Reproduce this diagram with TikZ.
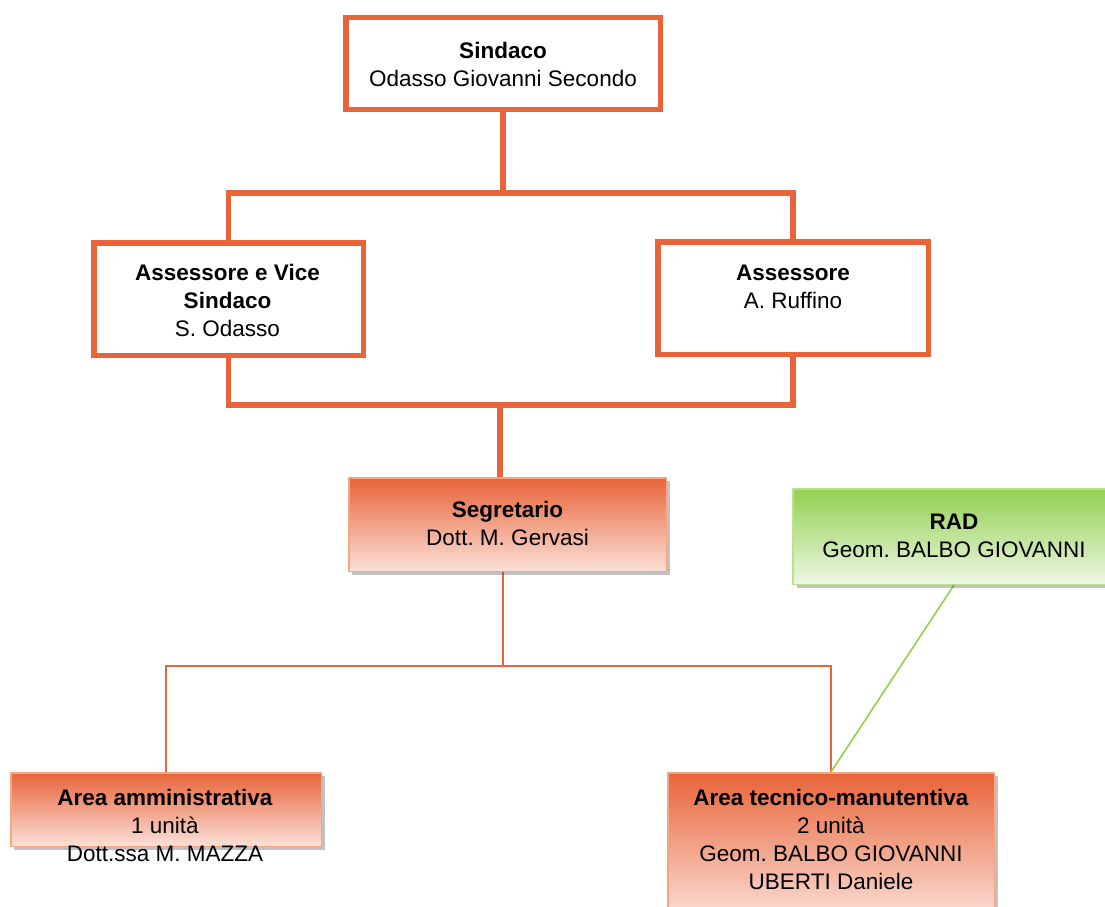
\documentclass[tikz,border=0pt]{standalone}
\usepackage{fontspec}
\setmainfont{Liberation Sans}
\frenchspacing
\usetikzlibrary{shadows,backgrounds}
\definecolor{org}{HTML}{E8643A}
\definecolor{orgmid}{HTML}{EE9A82}
\definecolor{orgedge}{HTML}{F5A57F}
\definecolor{orglight}{HTML}{FBE0D7}
\definecolor{grn}{HTML}{92D050}
\definecolor{grnmid}{HTML}{BFE397}
\definecolor{grnedge}{HTML}{B9E28F}
\definecolor{grnlight}{HTML}{EEF7E4}
\definecolor{grnline}{HTML}{92D050}
\tikzset{
  thickbox/.style={draw=org, line width=5.5pt, fill=white, inner sep=0pt, rectangle},
  orgbox/.style={draw=orgedge, line width=1.5pt, top color=org, middle color=orgmid, bottom color=orglight, inner sep=0pt, rectangle,
    drop shadow={shadow xshift=3.5pt, shadow yshift=-3.5pt, opacity=.35, fill=black!70}},
  grnbox/.style={draw=grnedge, line width=1.5pt, top color=grn, middle color=grnmid, bottom color=grnlight, inner sep=0pt, rectangle,
    drop shadow={shadow xshift=3.5pt, shadow yshift=-3.5pt, opacity=.35, fill=black!70}},
  txt/.style={align=center, inner sep=0pt, anchor=north, font=\fontsize{22.5}{28}\selectfont},
  thickline/.style={draw=org, line width=5.5pt, line join=miter},
  thinline/.style={draw=org, line width=1.6pt},
  grline/.style={draw=grnline, line width=1.6pt},
}
\begin{document}
\begin{tikzpicture}[x=1pt,y=-1pt]
\useasboundingbox (0,0) rectangle (1105,907);
% boxes
\node[thickbox, minimum width=314.5pt, minimum height=91.5pt] (sind) at (503,63.5) {};
\node[thickbox, minimum width=269.5pt, minimum height=112.5pt] (ass1) at (228.5,299) {};
\node[thickbox, minimum width=270.5pt, minimum height=112.5pt] (ass2) at (793,298) {};
\node[orgbox, minimum width=317.5pt, minimum height=93.5pt] (seg) at (507.5,524.5) {};
\node[grnbox, minimum width=322pt, minimum height=95.5pt] (rad) at (954,536.5) {};
\node[orgbox, minimum width=310.5pt, minimum height=73.5pt] (amm) at (166,809.5) {};
\node[orgbox, minimum width=326.5pt, minimum height=146.5pt] (tec) at (831,846) {};
% connectors
\coordinate (bus1) at (503,193);
\coordinate (bus2) at (500,405);
\coordinate (bus3) at (503,666);
\begin{scope}[on background layer]
\draw[thickline] (sind.south) -- (bus1);
\draw[thickline] (ass1.north) |- (bus1) -| (ass2.north);
\draw[thickline] (ass1.south) |- (bus2) -| (ass2.south);
\draw[thickline] (bus2) -- (bus2 |- seg.north);
\draw[thinline] (bus3 |- seg.south) -- (bus3);
\draw[thinline] (amm.north) |- (bus3) -| (tec.north);
\draw[grline] (rad.south) -- (tec.north);
\end{scope}
% texts
\node[txt] (t1) at (503,41.5) {\textbf{Sindaco}\\Odasso Giovanni Secondo};
\node[txt] (t2) at (227.5,263.5) {\textbf{Assessore e Vice}\\\textbf{Sindaco}\\S. Odasso};
\node[txt] (t3) at (793,264.5) {\textbf{Assessore}\\A. Ruffino};
\node[txt] (t4) at (507.5,500.5) {\textbf{Segretario}\\Dott. M. Gervasi};
\node[txt] (t5) at (954,513.5) {\textbf{RAD}\\Geom. BALBO GIOVANNI};
\node[txt] (t6) at (165,788.5) {\textbf{Area amministrativa}\\1 unità\\Dott.ssa M. MAZZA};
\node[txt] (t7) at (831,789) {\textbf{Area tecnico-manutentiva}\\2 unità\\Geom. BALBO GIOVANNI\\UBERTI Daniele};
\end{tikzpicture}
\end{document}
